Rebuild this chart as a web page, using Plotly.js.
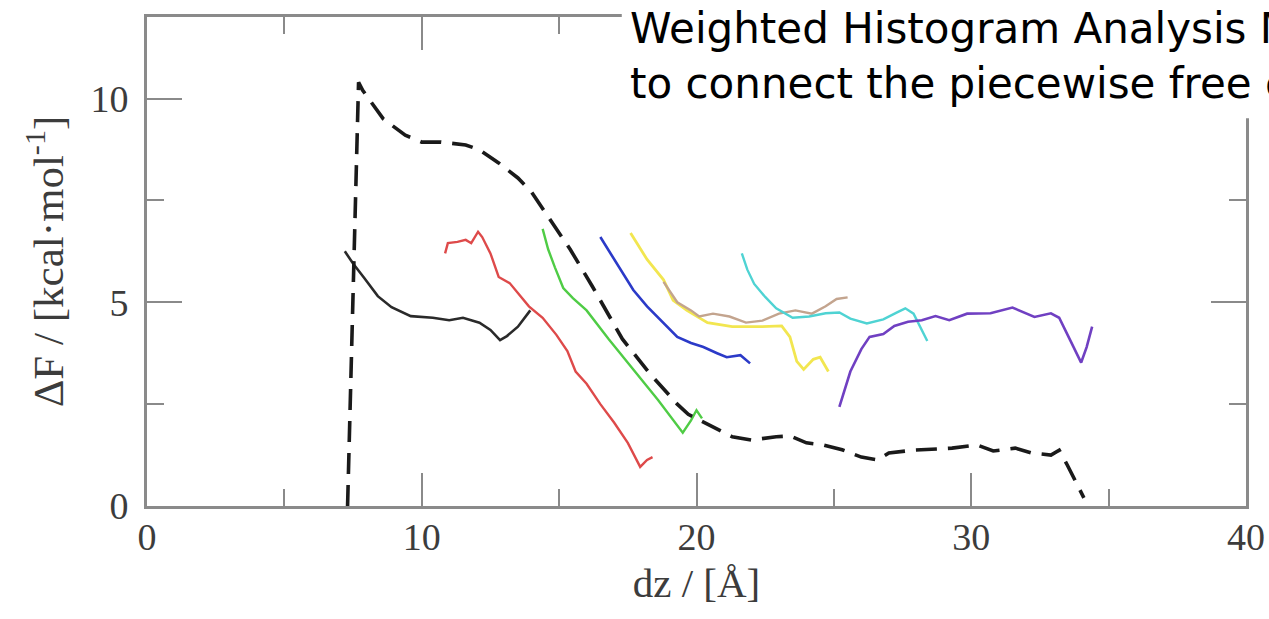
<!DOCTYPE html>
<html>
<head>
<meta charset="utf-8">
<script src="https://cdn.plot.ly/plotly-3.0.1.min.js"></script>
<style>
  html, body { margin: 0; padding: 0; background: #ffffff; }
  #chart { width: 1269px; height: 619px; }
</style>
</head>
<body>
<div id="chart"></div>
<script>
// ---- Data ----
// WHAM combined profile (black dashed)
const whamX = [7.3, 7.7, 7.85, 8.6, 9.4, 10.0, 10.7, 11.6, 12.1, 12.8, 13.5, 14.0, 14.6, 15.4, 16.2, 17.3, 18.3, 19.3, 19.7, 20.7, 21.3, 22.0, 22.9, 23.4, 24.0, 24.6, 25.3, 26.0, 26.6, 27.0, 27.9, 29.3, 30.2, 30.8, 31.6, 32.2, 32.9, 33.2, 33.5, 34.1];
const whamY = [0.0, 10.4, 10.2, 9.5, 9.1, 8.93, 8.93, 8.86, 8.74, 8.42, 8.05, 7.7, 7.1, 6.3, 5.4, 4.1, 3.25, 2.5, 2.25, 1.9, 1.7, 1.62, 1.7, 1.72, 1.55, 1.5, 1.38, 1.2, 1.13, 1.3, 1.37, 1.42, 1.5, 1.35, 1.42, 1.3, 1.25, 1.37, 1.0, 0.2];

// Piecewise window profiles
const blackX  = [7.2, 7.5, 7.9, 8.4, 8.9, 9.6, 10.4, 11.0, 11.5, 12.1, 12.5, 12.85, 13.1, 13.5, 13.95];
const blackY  = [6.25, 5.95, 5.6, 5.15, 4.88, 4.66, 4.62, 4.56, 4.62, 4.5, 4.32, 4.07, 4.17, 4.4, 4.8];

const redX    = [10.85, 10.95, 11.3, 11.6, 11.8, 12.05, 12.2, 12.5, 12.8, 13.2, 13.9, 14.4, 14.9, 15.3, 15.6, 16.0, 16.5, 17.0, 17.5, 17.95, 18.2, 18.4];
const redY    = [6.2, 6.45, 6.48, 6.53, 6.45, 6.73, 6.6, 6.2, 5.62, 5.47, 4.9, 4.62, 4.2, 3.8, 3.3, 3.0, 2.5, 2.05, 1.55, 0.96, 1.13, 1.2];

const greenX  = [14.4, 14.6, 14.85, 15.15, 15.5, 16.0, 16.8, 17.7, 18.6, 19.5, 19.8, 20.0, 20.2];
const greenY  = [6.8, 6.3, 5.85, 5.35, 5.1, 4.8, 4.1, 3.35, 2.6, 1.8, 2.1, 2.35, 2.15];

const blueX   = [16.5, 17.1, 17.7, 18.2, 18.7, 19.3, 19.8, 20.25, 20.75, 21.1, 21.6, 21.95];
const blueY   = [6.6, 5.95, 5.3, 4.9, 4.55, 4.15, 4.0, 3.9, 3.75, 3.65, 3.7, 3.5];

const yellowX = [17.6, 18.2, 18.8, 19.15, 19.65, 20.4, 21.3, 22.3, 23.1, 23.4, 23.65, 23.9, 24.25, 24.5, 24.8];
const yellowY = [6.7, 6.05, 5.55, 5.05, 4.8, 4.5, 4.4, 4.4, 4.42, 4.15, 3.55, 3.35, 3.6, 3.65, 3.3];

const tanX    = [18.8, 19.3, 19.8, 20.1, 20.6, 21.2, 21.8, 22.4, 23.0, 23.6, 24.2, 24.7, 25.1, 25.5];
const tanY    = [5.5, 5.0, 4.8, 4.65, 4.72, 4.65, 4.5, 4.55, 4.72, 4.8, 4.72, 4.9, 5.08, 5.12];

const cyanX   = [21.65, 21.85, 22.1, 22.5, 22.9, 23.5, 24.1, 24.7, 25.2, 25.6, 26.2, 26.8, 27.3, 27.6, 27.9, 28.15, 28.4];
const cyanY   = [6.2, 5.8, 5.45, 5.13, 4.85, 4.62, 4.65, 4.73, 4.75, 4.6, 4.48, 4.58, 4.75, 4.85, 4.72, 4.4, 4.05];

const purpleX = [25.2, 25.6, 26.0, 26.3, 26.8, 27.2, 27.7, 28.2, 28.7, 29.2, 29.85, 30.7, 31.5, 32.3, 32.9, 33.2, 33.6, 34.0, 34.2, 34.4];
const purpleY = [2.43, 3.3, 3.85, 4.15, 4.22, 4.42, 4.52, 4.56, 4.66, 4.56, 4.72, 4.73, 4.87, 4.64, 4.73, 4.62, 4.07, 3.52, 3.9, 4.4];

// Axis ticks and text
const xTicks = [0, 10, 20, 30, 40];
const yTicks = [0, 5, 10];
const xTitle = "dz / [Å]";
const yTitle = "ΔF / [kcal·mol<sup>-1</sup>]";
const noteText = "Weighted Histogram Analysis Method<br>to connect the piecewise free energy";

// ---- Traces ----
function seg(x, y, color, width) {
  return { x: x, y: y, type: "scatter", mode: "lines", hoverinfo: "skip",
           line: { color: color, width: width, shape: "linear" }, showlegend: false };
}
const traces = [
  seg(blackX, blackY, "#2a2a2a", 2.6),
  seg(redX, redY, "#de4a4a", 2.4),
  seg(greenX, greenY, "#4fcc45", 2.4),
  seg(blueX, blueY, "#2b3ac8", 2.6),
  seg(yellowX, yellowY, "#f2e650", 2.8),
  seg(tanX, tanY, "#c3a48e", 2.4),
  seg(cyanX, cyanY, "#4fd3d3", 2.4),
  seg(purpleX, purpleY, "#7040c2", 2.6),
  { x: whamX, y: whamY, type: "scatter", mode: "lines", hoverinfo: "skip", showlegend: false,
    line: { color: "#1a1a1a", width: 3.6, dash: "21px,11px" } }
];

const axisGray = "#8a8a8a";
const serif = "Liberation Serif, Times New Roman, serif";

const layout = {
  width: 1269, height: 619,
  margin: { l: 147, r: 23, t: 17, b: 113, pad: 0 },
  paper_bgcolor: "#ffffff", plot_bgcolor: "#ffffff",
  showlegend: false,
  xaxis: {
    range: [0, 40], tickmode: "array", tickvals: xTicks, ticktext: xTicks.map(String),
    ticks: "inside", ticklen: 33, tickwidth: 2, tickcolor: axisGray,
    minor: { tickmode: "linear", tick0: 5, dtick: 10, ticks: "inside", ticklen: 17, tickwidth: 2, tickcolor: axisGray, showgrid: false },
    showline: true, linecolor: axisGray, linewidth: 3, mirror: "allticks",
    showgrid: false, zeroline: false,
    tickfont: { family: serif, size: 38, color: "#3c3c3c" },
    ticklabelstandoff: -5,
    title: { text: xTitle, font: { family: serif, size: 41, color: "#3c3c3c" }, standoff: 12 }
  },
  yaxis: {
    range: [0, 12], tickmode: "array", tickvals: yTicks, ticktext: yTicks.map(String),
    ticks: "inside", ticklen: 35, tickwidth: 2, tickcolor: axisGray,
    minor: { tickmode: "linear", tick0: 2.5, dtick: 5, ticks: "inside", ticklen: 17, tickwidth: 2, tickcolor: axisGray, showgrid: false },
    showline: true, linecolor: axisGray, linewidth: 3, mirror: "allticks",
    showgrid: false, zeroline: false,
    tickfont: { family: serif, size: 38, color: "#3c3c3c" },
    ticklabelstandoff: 8,
    title: { text: yTitle, font: { family: serif, size: 43, color: "#3c3c3c" }, standoff: 14 }
  },
  shapes: [{
    type: "rect", xref: "paper", yref: "paper", layer: "above",
    x0: 0.432, x1: 1.2, y0: 0.793, y1: 1.2,
    fillcolor: "#ffffff", line: { width: 0 }
  }],
  annotations: [{
    xref: "paper", yref: "paper", x: 0.4377, y: 1.03, xanchor: "left", yanchor: "top",
    align: "left", showarrow: false, text: noteText,
    font: { family: "DejaVu Sans, Liberation Sans, Arial, sans-serif", size: 42, color: "#000000" }
  }]
};

Plotly.newPlot("chart", traces, layout, { staticPlot: true, displayModeBar: false });
</script>
</body>
</html>
